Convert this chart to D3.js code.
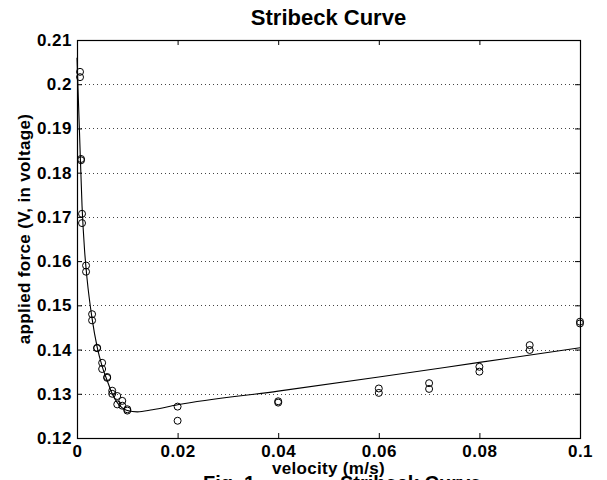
<!DOCTYPE html>
<html>
<head>
<meta charset="utf-8">
<script src="https://cdn.jsdelivr.net/npm/d3@7"></script>
<style>
  html, body { margin: 0; padding: 0; background: #fff; }
  svg { display: block; }
  text { font-family: "Liberation Sans", Arial, Helvetica, sans-serif; font-weight: bold; fill: #000; }
</style>
</head>
<body>
<svg id="chart" width="607" height="480"></svg>
<script>
// Measured data (velocity m/s, applied force V)
const measVelocity = [
  0.0006, 0.0006, 0.0008, 0.0008, 0.001, 0.001, 0.0018, 0.0018,
  0.003, 0.003, 0.004, 0.004, 0.005, 0.005, 0.006, 0.006,
  0.007, 0.007, 0.008, 0.008, 0.009, 0.009, 0.01, 0.01,
  0.02, 0.02, 0.04, 0.04, 0.06, 0.06, 0.07, 0.07,
  0.08, 0.08, 0.09, 0.09, 0.1, 0.1
];
const measForce = [
  0.2028, 0.2016, 0.1831, 0.1828, 0.1707, 0.1686, 0.1590, 0.1576,
  0.1480, 0.1466, 0.1404, 0.1403, 0.1370, 0.1356, 0.1338, 0.1336,
  0.1307, 0.1300, 0.1295, 0.1276, 0.1284, 0.1273, 0.1265, 0.1262,
  0.1271, 0.1239, 0.1283, 0.1280, 0.1312, 0.1302, 0.1324, 0.1311,
  0.1361, 0.1350, 0.1410, 0.1399, 0.1463, 0.1459
];

// Fitted Stribeck curve
const fitVelocity = [0, 0.0002, 0.0005, 0.001, 0.0015, 0.002, 0.003, 0.004, 0.005,
  0.006, 0.007, 0.008, 0.009, 0.01, 0.012, 0.015, 0.02, 0.04, 0.06, 0.08, 0.1];
const fitForce = [0.2060, 0.1990, 0.1890, 0.1725, 0.1625, 0.1560, 0.1470, 0.1406, 0.1362,
  0.1330, 0.1300, 0.1280, 0.1268, 0.1262, 0.1259, 0.1264, 0.1275, 0.1306, 0.1338, 0.1371, 0.1404];

const xTicks = [0, 0.02, 0.04, 0.06, 0.08, 0.1];
const xTickLabels = ["0", "0.02", "0.04", "0.06", "0.08", "0.1"];
const yTicks = [0.12, 0.13, 0.14, 0.15, 0.16, 0.17, 0.18, 0.19, 0.2, 0.21];
const yTickLabels = ["0.12", "0.13", "0.14", "0.15", "0.16", "0.17", "0.18", "0.19", "0.2", "0.21"];

const titleText = "Stribeck Curve";
const xLabelText = "velocity (m/s)";
const yLabelText = "applied force (V, in voltage)";
const captionNum = "Fig. 1.";
const captionText = "Stribeck Curve";

const svg = d3.select("#chart");
const L = 77, R = 580, T = 40, B = 438;
const x = d3.scaleLinear().domain([0, 0.1]).range([L, R]);
const y = d3.scaleLinear().domain([0.12, 0.21]).range([B, T]);

// horizontal dotted grid
svg.append("g").selectAll("line")
  .data(yTicks.filter(d => d > 0.12 && d < 0.21))
  .join("line")
  .attr("x1", L).attr("x2", R)
  .attr("y1", d => Math.round(y(d)) + 0.5).attr("y2", d => Math.round(y(d)) + 0.5)
  .attr("stroke", "#444").attr("stroke-width", 1)
  .attr("stroke-dasharray", "1,3");

// axes via d3 (inner ticks)
const tickLen = 5;
const axB = svg.append("g").attr("transform", `translate(0,${B})`)
  .call(d3.axisBottom(x).tickValues(xTicks).tickSize(-tickLen).tickFormat((d, i) => xTickLabels[i]));
const axT = svg.append("g").attr("transform", `translate(0,${T})`)
  .call(d3.axisTop(x).tickValues(xTicks).tickSize(-tickLen).tickFormat(""));
const axL = svg.append("g").attr("transform", `translate(${L},0)`)
  .call(d3.axisLeft(y).tickValues(yTicks).tickSize(-tickLen).tickFormat((d, i) => yTickLabels[i]).tickPadding(5));
const axR = svg.append("g").attr("transform", `translate(${R},0)`)
  .call(d3.axisRight(y).tickValues(yTicks).tickSize(-tickLen).tickFormat(""));

[axB, axT, axL, axR].forEach(a => {
  a.select(".domain").remove();
  a.selectAll("line").attr("stroke", "#000");
  a.selectAll("text").attr("font-size", 17).attr("letter-spacing", 0.5)
    .attr("font-family", "'Liberation Sans', Arial, sans-serif").attr("font-weight", "bold").attr("fill", "#000");
});
axB.selectAll("text").attr("dy", null).attr("y", 19);

// box
svg.append("rect").attr("x", L + 0.5).attr("y", T + 0.5)
  .attr("width", R - L).attr("height", B - T)
  .attr("fill", "none").attr("stroke", "#000").attr("stroke-width", 1.2);

// fitted curve
const line = d3.line().x(d => x(d[0])).y(d => y(d[1])).curve(d3.curveMonotoneX);
svg.append("path")
  .datum(fitVelocity.map((v, i) => [v, fitForce[i]]))
  .attr("d", line)
  .attr("fill", "none").attr("stroke", "#000").attr("stroke-width", 1.1);

// measured points
svg.append("g").selectAll("circle")
  .data(measVelocity.map((v, i) => [v, measForce[i]]))
  .join("circle")
  .attr("cx", d => x(d[0])).attr("cy", d => y(d[1]))
  .attr("r", 3.5)
  .attr("fill", "none").attr("stroke", "#000").attr("stroke-width", 1);

// title and labels
svg.append("text").attr("x", (L + R) / 2).attr("y", 25)
  .attr("text-anchor", "middle").attr("font-size", 22).text(titleText);
svg.append("text").attr("x", (L + R) / 2).attr("y", 474)
  .attr("text-anchor", "middle").attr("font-size", 17).attr("letter-spacing", 0.3).text(xLabelText);
svg.append("text")
  .attr("transform", `translate(30,${(T + B) / 2 - 10}) rotate(-90)`)
  .attr("text-anchor", "middle").attr("font-size", 17).attr("letter-spacing", 0.35).text(yLabelText);

// caption (cut off at the bottom edge, as in the reference)
svg.append("text").attr("x", 203).attr("y", 490)
  .attr("font-family", "'Liberation Serif', 'Times New Roman', serif")
  .attr("font-weight", "normal").attr("font-size", 20)
  .text(captionNum);
svg.append("text").attr("x", 340).attr("y", 490)
  .attr("font-family", "'Liberation Serif', 'Times New Roman', serif")
  .attr("font-weight", "normal").attr("font-size", 20)
  .text(captionText);
</script>
</body>
</html>
